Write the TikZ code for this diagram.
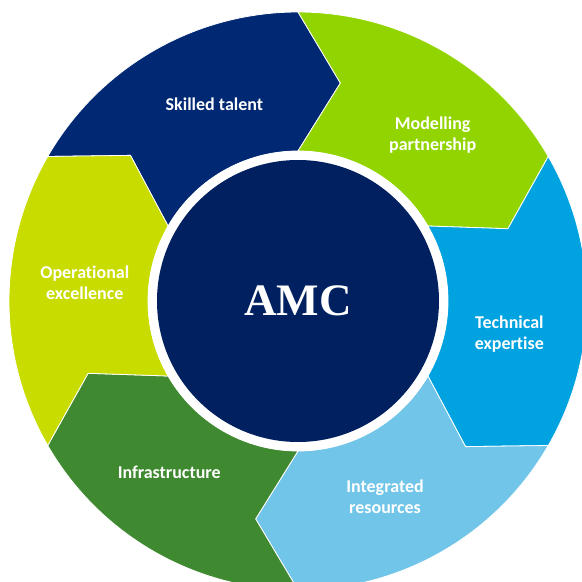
\documentclass[tikz,border=0pt]{standalone}
\usepackage{fontspec}
\newfontfamily\carlito{Carlito}[Ligatures=NoCommon]
\newfontfamily\serifbold{Liberation Serif}
\definecolor{navyseg}{RGB}{0,40,115}
\definecolor{limeseg}{RGB}{146,212,0}
\definecolor{cyanseg}{RGB}{0,163,224}
\definecolor{skyseg}{RGB}{113,197,232}
\definecolor{greenseg}{RGB}{63,137,48}
\definecolor{yellowseg}{RGB}{200,220,0}
\definecolor{coreblue}{RGB}{1,32,96}

\begin{document}
\begin{tikzpicture}[x=1pt,y=1pt,
    seg/.style={fill=#1,draw=white,line width=0.8pt},
    seg label/.style={text=white,align=center,
      font=\carlito\bfseries\fontsize{18}{21}\selectfont},
    core/.style={circle,fill=coreblue,minimum size=282pt,inner sep=0pt,text=white,
      font=\serifbold\bfseries\fontsize{45}{50}\selectfont}]
    \clip (-298,-281) rectangle (284,301);
    \fill[white] (-298,-281) rectangle (284,301);
    % ring of arrow segments, clockwise
    \foreach \a/\c/\p/\t [count=\i] in {
        150/navyseg/113/{Skilled talent},
        90/limeseg/51/{Modelling\\partnership},
        30/cyanseg/-9/{Technical\\expertise},
        -30/skyseg/-66/{Integrated\\resources},
        -90/greenseg/-127/{Infrastructure},
        -150/yellowseg/175/{Operational\\excellence}} {
      \draw[seg=\c] (\a:289) arc[start angle=\a, end angle=\a-60, radius=289]
        -- (\a-71:222) -- (\a-60:150) arc[start angle=\a-60, end angle=\a, radius=150]
        -- (\a-11:222) -- cycle;
      \node[seg label] (seg\i) at (\p:214) {\t};
    }
    \fill[white] (0,0) circle[radius=150];
    \node[core] (amc) at (0,0) {AMC};
\end{tikzpicture}
\end{document}
